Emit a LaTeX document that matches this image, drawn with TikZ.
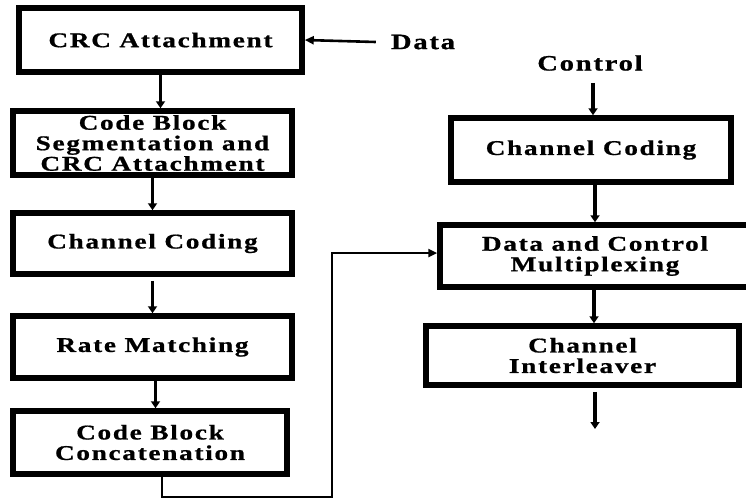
\documentclass[tikz,border=0pt]{standalone}
\usepackage{fontspec}
\setmainfont{Liberation Serif}[FakeStretch=1.3,LetterSpace=8,FakeBold=0.8]
\usetikzlibrary{arrows.meta}
\begin{document}
\begin{tikzpicture}[x=1pt,y=-1pt,
  blk/.style={draw=black,line width=5.5pt,fill=white,align=center,inner sep=0pt,
    font=\fontsize{21}{20.5}\selectfont\bfseries},
  lbl/.style={inner sep=0pt,font=\fontsize{22}{22}\selectfont\bfseries},
  arr/.style={line width=3.2pt,-{Triangle[length=7pt,width=9pt]}},
  wire/.style={line width=2.6pt,-{Triangle[length=9pt,width=8pt]}}]
\useasboundingbox (0,0) rectangle (746,498);
\clip (0,0) rectangle (746,498);
\fill[white] (0,0) rectangle (746,498);

% transmit chain for the data bits
\node[blk,minimum width=283pt,minimum height=64pt] (b1) at (160.5,40) {CRC Attachment};
\node[blk,minimum width=279pt,minimum height=64pt] (b2) at (152.5,143) {Code Block\\Segmentation and\\CRC Attachment};
\node[blk,minimum width=279pt,minimum height=61pt] (b3) at (152.5,243.5) {Channel Coding};
\node[blk,minimum width=279pt,minimum height=62pt] (b4) at (152.5,347) {Rate Matching};
\node[blk,minimum width=274pt,minimum height=63pt] (b5) at (150,442.5) {Code Block\\Concatenation};

% control path and multiplexing
\node[blk,minimum width=280pt,minimum height=64pt] (c1) at (591,150) {Channel Coding};
\node[blk,minimum width=310pt,minimum height=62pt] (c2) at (595,256) {Data and Control\\Multiplexing};
\node[blk,minimum width=313pt,minimum height=59pt] (c3) at (582.5,355.5) {Channel\\Interleaver};

% input labels
\node[lbl] (data) at (423,42) {Data};
\node[lbl] (ctl) at (590,63) {Control};

% loop and output end points
\coordinate (loopb) at (332,497);
\coordinate (out) at (595,429);

% connectors (yshift is in page units, so negative moves down)
\draw[wire] (data.west) ++(-15,0) -- (b1.east);
\draw[arr] (b1.south) -- (b1.south |- b2.north);
\draw[arr] (b2.south) -- (b2.south |- b3.north);
\draw[arr] ([yshift=-4pt]b3.south) -- (b3.south |- b4.north);
\draw[arr] ([xshift=3pt]b4.south) -- ([xshift=3pt]b4.south |- b5.north);
\draw[wire] ([xshift=12pt]b5.south) |- (loopb) |- ([yshift=3pt]c2.west);
\draw[arr] ([xshift=3pt,yshift=-12pt]ctl.south) -- ([xshift=3pt]ctl.south |- c1.north);
\draw[arr] ([xshift=4pt]c1.south) -- ([xshift=4pt]c1.south |- c2.north);
\draw[arr] ([xshift=-1pt]c2.south) -- ([xshift=-1pt]c2.south |- c3.north);
\draw[arr] ([yshift=-4pt]c3.south -| out) -- (out);
\end{tikzpicture}
\end{document}
